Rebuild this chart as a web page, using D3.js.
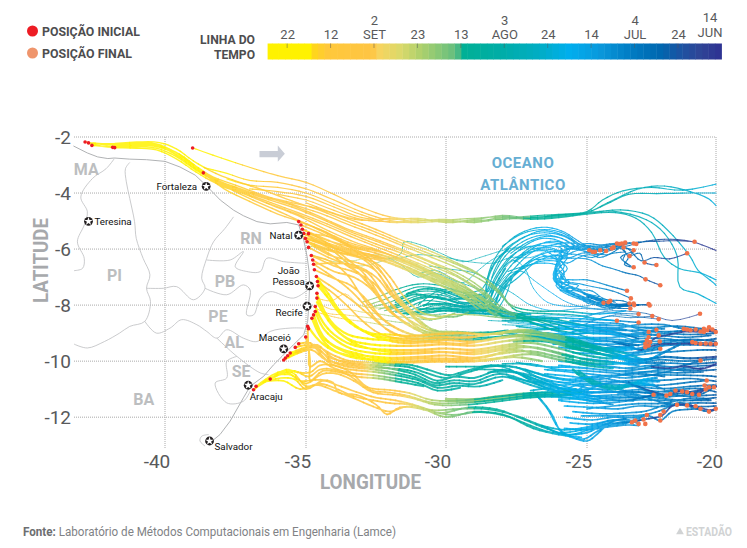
<!DOCTYPE html>
<html>
<head>
<meta charset="utf-8">
<script src="https://cdn.jsdelivr.net/npm/d3@7"></script>
<style>
html,body{margin:0;padding:0;background:#fff;}
text{font-family:"Roboto",sans-serif;}
</style>
</head>
<body>
<div id="chart"></div>
<script>
// axes
var lonTicks = [-40,-35,-30,-25,-20];
var latTicks = [-2,-4,-6,-8,-10,-12];

// timeline: days counted from 14 jun
var timelineDays = [104.5,95,94,91,80.5,79,74,69.5,65,61,60,51,42,35,28,21,14,9.5,5,0];
var timelineColors = ["#fff200","#fff200","#ffd61a","#ffc83a","#fec544","#f7d45e","#dbd96b","#afd06c","#86c877","#60bc7f","#00b094","#00ada6","#00adc4","#00aeef","#0a98db","#007cc3","#0066af","#1b53a2","#2f4596","#2e3192"];
var timelineTicks = [100,90,80,70,60,50,40,30,20,10,0];
var timelineNumbers = ["22","12","2","23","13","3","24","14","4","24","14"];
var timelineMonths = ["","","SET","","","AGO","","","JUL","","JUN"];

// map: [lon,lat,lon,lat...]
var coastLine = [-43.22,-2.32,-42.73,-2.57,-42.37,-2.71,-42.01,-2.77,-41.78,-2.75,-41.24,-2.79,-40.65,-2.81,-40,-2.87,-39.47,-3.07,-38.93,-3.36,-38.55,-3.72,-38.04,-4.25,-37.57,-4.61,-37.22,-4.81,-36.74,-5.02,-36.27,-5.1,-35.68,-5.05,-35.26,-5.14,-35.08,-5.68,-34.96,-6.27,-34.89,-6.8,-34.87,-7.28,-34.9,-7.99,-34.94,-8.58,-35.08,-9.06,-35.44,-9.41,-35.85,-9.83,-36.15,-10.13,-36.5,-10.54,-36.98,-10.9,-37.22,-11.31,-37.69,-12.14,-38.05,-12.62,-38.4,-12.91];
var stateBorders = [
  [-41.78,-2.77,-42.07,-3.13,-42.55,-3.48,-42.96,-4.14,-42.73,-4.67,-42.84,-5.14,-43.08,-5.74,-42.84,-6.33,-42.9,-6.69,-43.2,-6.77],
  [-41.24,-2.91,-41.39,-3.13,-41.36,-3.6,-41.24,-4.19,-41.07,-5.02,-41.01,-5.62,-40.77,-6.33,-40.53,-6.92,-40.65,-7.4,-40.51,-7.87,-40.71,-8.58,-41.24,-8.76,-41.6,-9,-42.13,-9.3,-42.73,-9.53,-43.2,-9.39],
  [-37.57,-4.85,-37.87,-5.26,-38.28,-5.74,-38.52,-6.33,-38.7,-7.04,-38.58,-7.4,-38.99,-7.81,-39.59,-7.34,-40.06,-7.4,-40.65,-7.4],
  [-34.96,-6.51,-35.79,-6.45,-36.39,-6.33,-36.62,-6.8,-37.1,-6.8,-37.51,-6.63,-37.22,-6.09,-37.69,-6.39,-38.52,-6.39],
  [-34.87,-7.4,-35.44,-7.75,-36.27,-7.52,-36.62,-7.75,-36.86,-8.35,-37.1,-8.35,-36.98,-7.46,-37.22,-7.28,-37.81,-7.63,-38.58,-7.4],
  [-35.08,-8.82,-35.56,-8.82,-36.27,-8.94,-36.74,-9.3,-37.22,-9.18,-37.81,-8.88,-38.16,-9.18,-38.52,-8.94,-38.87,-8.7,-39.41,-8.52,-39.82,-8.82,-40.3,-9,-40.71,-8.58],
  [-38.16,-9.18,-37.45,-9.83,-36.62,-10.42,-36.33,-10.48],
  [-37.45,-9.83,-37.81,-10.01,-37.81,-10.6,-38.22,-10.78,-37.81,-11.49,-37.22,-11.43,-36.98,-11.07],
  [-38.45,-12.62,-38.7,-12.68,-38.76,-12.85,-38.58,-13.03]
];
var cityNames = ["Fortaleza","Teresina","Natal","João Pessoa","Recife","Maceió","Aracaju","Salvador"];
var cityLons = [-38.54,-42.69,-35.26,-34.87,-34.96,-35.79,-37.05,-38.42];
var cityLats = [-3.76,-5.01,-5.5,-7.31,-8.04,-9.56,-10.86,-12.85];
var stateNames = ["MA","PI","RN","PB","PE","AL","SE","BA"];
var stateLons = [-42.77,-41.78,-36.95,-37.87,-38.12,-37.55,-37.3,-40.75];
var stateLats = [-3.15,-6.93,-5.61,-7.14,-8.42,-9.35,-10.38,-11.38];

var startPositions = [-42.81,-2.18,-42.69,-2.21,-42.57,-2.3,-41.84,-2.37,-41.77,-2.38,-39.02,-2.39,-38.64,-3.28,-35.26,-5.02,-35.18,-5.14,-35.13,-5.29,-35.08,-5.44,-35.02,-5.62,-34.96,-5.74,-34.91,-5.94,-34.81,-6.23,-34.76,-6.39,-34.73,-6.54,-34.7,-6.74,-34.63,-6.98,-34.59,-7.16,-34.57,-7.31,-34.61,-7.58,-34.61,-7.75,-34.67,-8.05,-34.67,-8.23,-34.73,-8.35,-34.79,-8.47,-34.94,-8.76,-34.91,-8.84,-35.01,-9.14,-34.91,-5.45,-35.26,-9.38,-35.38,-9.51,-35.56,-9.71,-35.65,-9.81,-35.73,-9.89,-35.79,-9.96,-36.27,-10.64,-36.77,-10.9,-36.86,-11.02];
var endPositions = [-23.84,-5.8,-23.74,-5.82,-23.65,-5.8,-23.52,-5.77,-23.97,-5.94,-24.04,-5.98,-23.58,-5.94,-23.19,-5.8,-23.09,-5.82,-24.26,-6.07,-24.49,-6.04,-24.69,-6.1,-24.91,-6.04,-24.78,-6.1,-23.19,-6.04,-23.35,-6.25,-22.77,-6.48,-22.31,-6.57,-23.19,-6.65,-22.73,-7.08,-22.16,-7.29,-20.83,-5.74,-21.12,-6.15,-23.45,-7.49,-23.3,-7.76,-23.35,-7.94,-23.19,-7.94,-23.17,-8,-22.61,-7.96,-22.57,-8.01,-24.1,-7.85,-24.17,-7.9,-24.36,-7.92,-23.32,-8.12,-20.62,-8.31,-23,-8.32,-22.47,-8.39,-22.22,-8.5,-23.84,-8.56,-23,-8.62,-21.25,-8.85,-21.12,-8.87,-20.99,-8.9,-20.79,-8.87,-20.6,-8.94,-20.47,-8.96,-20.34,-8.9,-20.14,-8.87,-20.01,-8.96,-20.47,-8.85,-20.27,-8.79,-20.92,-9.32,-20.79,-9.35,-20.6,-9.38,-20.4,-9.37,-20.21,-9.38,-20.01,-9.38,-22.61,-8.96,-22.31,-8.88,-22.61,-9.14,-22.68,-9.26,-22.74,-9.38,-22.61,-9.44,-22.55,-9.32,-22.74,-9.5,-22.16,-9.56,-22.18,-9.3,-22.22,-9.08,-20.6,-9.98,-20.36,-10.69,-20.44,-10.87,-20.27,-10.93,-20.08,-10.93,-20.4,-11.01,-20.66,-11.2,-20.92,-11.17,-21.12,-11.11,-21.31,-11.08,-21.57,-11.05,-21.77,-11.17,-21.92,-11.23,-22.42,-11.2,-21.51,-11.56,-21.12,-11.58,-20.79,-11.61,-20.6,-11.7,-20.27,-11.8,-20.01,-11.7,-22.16,-11.92,-22.03,-11.8,-22.68,-11.92,-22.81,-12.08,-23,-12.24,-23.26,-12.18,-23.13,-12.12,-22.74,-12.24,-22.16,-12.12];

// tracks: [lon,lat,...], and for each group the day reached at a given longitude [lon,day]
var northBandDays = [[-43,103],[-39.5,100],[-38.5,94],[-36,90],[-33,86],[-31.5,78],[-30,73],[-28.8,68],[-27.8,62],[-26,50],[-25,40],[-23,28],[-20,12]];
var northBand = [
 [-42.8,-2.18,-42,-2.28,-41,-2.22,-40.3,-2.25,-39.7,-2.5,-39,-2.98,-38.3,-3.42,-37.5,-3.72,-36.5,-4.08,-35.5,-4.4,-34.5,-4.72,-33.5,-5.12,-32.5,-5.5,-31.5,-5.9,-30.5,-6.3,-29.5,-6.72,-28.6,-7.2,-28,-7.7,-27.5,-8.2,-26.5,-8.3,-25.5,-8.35,-24.5,-8.5,-23.84,-8.56],
 [-42.7,-2.2,-42,-2.24,-41,-2.18,-40.2,-2.2,-39.6,-2.42,-39,-2.85,-38.2,-3.3,-37.4,-3.6,-36.5,-3.9,-35.5,-4.28,-34.5,-4.62,-33.5,-5.02,-32.5,-5.4,-31.5,-5.82,-30.5,-6.2,-29.5,-6.6,-28.7,-7,-28.1,-7.5,-27.7,-8,-26.9,-8.2,-25.8,-8.22,-24.5,-8.32,-23.5,-8.2],
 [-42.57,-2.3,-41.8,-2.34,-41,-2.3,-40.3,-2.34,-39.6,-2.62,-39,-3.08,-38.3,-3.5,-37.6,-3.8,-36.6,-4.15,-35.5,-4.5,-34.5,-4.9,-33.5,-5.35,-32.5,-5.72,-31.5,-6.1,-30.5,-6.5,-29.6,-6.95,-28.8,-7.45,-28.2,-7.95,-27.3,-8.45,-26.2,-8.5,-25,-8.75,-24,-8.95,-23,-9.1],
 [-41.84,-2.37,-41,-2.35,-40.3,-2.4,-39.6,-2.7,-38.9,-3.18,-38.2,-3.58,-37.5,-3.88,-36.5,-4.25,-35.5,-4.62,-34.5,-5,-33.5,-5.42,-32.5,-5.82,-31.5,-6.18,-30.5,-6.6,-29.5,-7.05,-28.7,-7.6,-28.2,-8.05,-27.2,-8.4,-26,-8.7,-25,-9,-24,-9.05,-22.74,-9.38],
 [-41.77,-2.38,-41,-2.4,-40.3,-2.46,-39.6,-2.78,-38.9,-3.25,-38.2,-3.65,-37.4,-3.95,-36.4,-4.35,-35.4,-4.72,-34.4,-5.12,-33.4,-5.55,-32.4,-5.95,-31.5,-6.3,-30.5,-6.72,-29.5,-7.2,-28.8,-7.72,-28.3,-8.15,-27.5,-8.4,-26.5,-8.8,-25.5,-9,-24.5,-9.3],
 [-42.7,-2.22,-42,-2.36,-41,-2.32,-40.3,-2.3,-39.6,-2.55,-39,-3.02,-38.3,-3.47,-37.6,-3.76,-36.6,-4.1,-35.6,-4.4,-34.6,-4.8,-33.6,-5.25,-32.6,-5.62,-31.6,-6,-30.6,-6.42,-29.6,-6.85,-28.8,-7.35,-28.3,-7.85],
 [-38.64,-3.28,-38,-3.74,-37.2,-4.02,-36.3,-4.4,-35.3,-4.8,-34.4,-5.25,-33.4,-5.7,-32.4,-6.05,-31.5,-6.42,-30.5,-6.85,-29.6,-7.3,-28.9,-7.8,-28.4,-8.25],
 [-41.8,-2.3,-41,-2.27,-40.3,-2.3,-39.7,-2.58,-39.1,-3,-38.4,-3.45,-37.7,-3.72,-36.7,-4.05,-35.7,-4.3,-34.6,-4.55,-33.5,-4.92,-32.5,-5.3,-31.5,-5.72,-30.5,-6.1,-29.6,-6.5,-28.9,-6.85,-28.3,-7.35,-27.8,-7.95],
 [-38.64,-3.28,-37.9,-3.85,-37,-4.3,-36,-4.75,-35,-5.1,-34,-5.6,-33.2,-6.1,-32.6,-6.55,-32.1,-7.1,-31.7,-7.7,-31.2,-8.2,-30.6,-8.5,-29.9,-8.35,-29,-8.35,-28,-8.45,-27,-8.5,-26,-8.85],
 [-40.3,-2.28,-39.5,-2.6,-38.8,-3.12,-38,-3.68,-37.1,-4.15,-36.2,-4.55,-35.2,-5,-34.2,-5.45,-33.4,-5.9,-32.7,-6.35,-32.2,-6.95,-31.75,-7.7,-31.3,-8.29,-30.5,-8.95,-29.9,-8.95,-29,-9,-28,-9.05]
];

var topStrandDays = [[-39,98],[-37,93],[-35,88],[-33,85],[-32,80],[-31,75],[-30,71],[-28.5,66],[-27,60],[-25,52],[-23,46],[-20,38]];
var topStrand = [
 [-39.02,-2.39,-38,-2.75,-37,-3.08,-36,-3.38,-35,-3.62,-34,-4.05,-33,-4.52,-32,-4.85,-31,-4.95,-30,-5.02,-29,-4.95,-28,-4.8,-27,-4.88,-26,-4.8,-25,-4.66,-24.4,-4.25,-23.6,-3.92,-22.5,-3.8,-21.3,-3.9,-20,-3.68],
 [-38.6,-3.1,-37.8,-3.3,-37,-3.55,-36,-3.62,-35,-3.85,-34,-4.25,-33,-4.68,-32,-4.98,-31,-5.06,-30,-4.98,-29,-5.04,-28,-4.92,-27,-4.82,-26,-4.76,-25,-4.68,-24.3,-4.42,-23.4,-4.05,-22.3,-4.02,-21,-4,-20,-4],
 [-37.8,-3.5,-37,-3.72,-36,-3.8,-35,-4,-34,-4.4,-33,-4.78,-32,-5.05,-31,-5,-30,-4.94,-29,-5.06,-28,-4.86,-27,-4.92,-26,-4.84,-25,-4.7,-24.2,-4.35,-23,-3.85,-22,-3.75,-21,-3.95,-20.3,-4.2,-20,-4.45],
 [-37,-3.85,-36,-3.95,-35,-4.12,-34,-4.5,-33,-4.88,-32,-4.95,-31,-4.9,-30,-5.06,-29,-4.98,-28,-4.94,-27,-4.86,-26,-4.82,-25,-4.7,-24,-4.65,-22.7,-4.95,-22,-5.44,-21.5,-6.27,-21.4,-7.35,-20.7,-7.6,-20,-7.94],
 [-36,-4.05,-35,-4.25,-34,-4.62,-33,-4.95,-32,-5.02,-31,-4.98,-30,-4.96,-29,-4.9,-28,-4.84,-27,-4.9,-26,-4.78,-25,-4.72,-23.7,-4.6,-22.6,-4.8,-21.9,-5.3,-21,-6.27,-20.7,-6.75,-20.1,-7.2,-20,-7.3],
 [-35,-4.35,-34,-4.72,-33,-4.98,-32,-4.9,-31,-5.04,-30,-5,-29,-5.02,-28,-4.88,-27,-4.94,-26,-4.88,-25,-4.75,-23.9,-4.7,-23.1,-4.9,-22.5,-5.4,-22,-6.3,-21.4,-6.7,-20.6,-6.85,-20,-7.1]
];

var natalBandDays = [[-35.3,92],[-34,89],[-33,86],[-32.3,80],[-31,74],[-29.5,70],[-28.5,66],[-27.5,52],[-26,40],[-25,33],[-23,22],[-20,8]];
var natalBand = [
 [-35.26,-5.02,-34.5,-5.3,-33.5,-5.75,-32.5,-6.05,-31.5,-6.4,-30.5,-6.85,-29.5,-7.3,-28.5,-7.9,-27.9,-8.3,-27,-8.4,-26,-8.45,-25,-8.5,-24,-8.55,-23,-8.62],
 [-35.18,-5.14,-34.5,-5.42,-33.5,-5.85,-32.5,-6.15,-31.5,-6.5,-30.5,-6.95,-29.5,-7.42,-28.6,-8,-27.7,-8.5,-26.5,-8.55,-25.5,-8.7,-24.5,-8.8,-23.5,-8.9],
 [-35.13,-5.29,-34.4,-5.6,-33.5,-5.98,-32.5,-6.25,-31.5,-6.6,-30.5,-7.05,-29.6,-7.5,-28.8,-8.05,-28.2,-8.4],
 [-35.08,-5.44,-34.4,-5.72,-33.4,-6.05,-32.4,-6.35,-31.4,-6.72,-30.4,-7.18,-29.5,-7.62,-28.7,-8.12],
 [-35.02,-5.62,-34.3,-5.85,-33.4,-6.15,-32.4,-6.3,-31.6,-6.55,-30.6,-6.98,-29.6,-7.4,-28.9,-7.85],
 [-34.91,-5.45,-34.2,-5.7,-33.3,-5.95,-32.3,-6.2,-31.3,-6.52,-30.3,-7,-29.3,-7.48,-28.6,-7.9,-28.1,-8.3],
 [-34.91,-5.45,-34.2,-5.55,-33.3,-5.88,-32.3,-6.12,-31.3,-6.44,-30.3,-6.9,-29.3,-7.38,-28.6,-7.8,-28,-8.2],
 [-35,-5.7,-34.2,-6,-33.3,-6.22,-32.3,-6.42,-31.3,-6.8,-30.3,-7.25,-29.4,-7.72,-28.8,-8.2],
 [-35.1,-5.55,-34.3,-5.8,-33.4,-6.1,-32.4,-6.25,-31.4,-6.65,-30.4,-7.12,-29.4,-7.55,-28.5,-8.2,-28,-8.4]
];
var natalThin = [
 [-34.9,-5.9,-34.1,-6.05,-33.5,-6.5,-33,-6.6,-32.2,-6.4,-31.6,-6.15,-31.5,-5.75,-30.9,-5.85,-30.3,-6.1,-29.4,-6.45,-28.8,-6.3,-28,-6.05,-27.3,-5.9],
 [-34.8,-6.2,-34,-6.45,-33.2,-6.4,-32.4,-6.2,-31.7,-6.5,-31,-7,-30.4,-6.85,-29.4,-7.2,-28.9,-6.8,-28.4,-6.4,-27.6,-6,-27,-5.9],
 [-32.6,-6.3,-31.8,-6.35,-31,-6.2,-30,-6.3,-29.2,-6.45,-28.3,-6.5,-27.7,-6.3,-27,-6.3,-26.4,-6.05]
];

var orangeFanDays = [[-35,92],[-34,90],[-33,87],[-32,83],[-31,74],[-30,66],[-29,60],[-28,52],[-27,46],[-26,38],[-25,32],[-24,26],[-23,18],[-22,10],[-20,3]];
var orangeFan = [
 [-34.96,-5.74,-34.2,-6.2,-33.3,-6.45,-32.6,-6.7,-32.1,-7.3,-31.6,-8,-31,-8.5,-30.4,-8.92,-29.8,-8.95,-29,-8.98,-28,-8.95,-27,-8.9,-26,-8.85,-25,-8.9,-24,-8.95,-23,-9.2],
 [-34.81,-6.23,-34,-6.6,-33.2,-6.85,-32.6,-7.2,-32.1,-7.8,-31.6,-8.3,-31,-8.8,-30.4,-9.05,-29.7,-9,-29,-9,-28,-9,-27,-9.1,-26,-9.15,-25,-9.2,-24,-9.3,-23,-9.45],
 [-34.76,-6.39,-34,-6.8,-33.3,-7,-32.7,-7.4,-32.2,-8,-31.6,-8.52,-31,-8.9,-30.3,-9.2,-29.5,-9.2,-28.5,-9.15,-27.5,-9.1,-26.5,-9.2,-25.5,-9.3,-24.5,-9.4,-23.5,-9.55],
 [-34.73,-6.54,-34,-6.5,-33.2,-6.6,-32.5,-7,-32,-7.6,-31.5,-8.1,-30.9,-8.65,-30.2,-8.95,-29.6,-8.95,-28.8,-9,-27.8,-8.9],
 [-34.96,-5.74,-34.2,-6.05,-33.3,-6.25,-32.5,-6.5,-32,-7,-31.5,-7.7,-30.9,-8.25,-30.2,-8.4,-29.6,-8.4,-29,-8.2,-28.2,-8.2,-27.2,-8.35],
 [-35.02,-5.62,-34.2,-5.95,-33.3,-6.7,-32.9,-7.1,-32.4,-7.7,-31.9,-8.3,-31.3,-8.75,-30.6,-9.05,-29.8,-9.1,-28.9,-9.1],
 [-34.7,-6.74,-34,-7.05,-33.4,-7.3,-32.8,-7.85,-32.3,-8.45,-31.7,-8.85,-31,-9.1,-30.2,-9.15,-29.3,-9.25,-28.4,-9.2],
 [-34.63,-6.98,-34,-7.4,-33.4,-7.8,-32.8,-8.3,-32.2,-8.8,-31.6,-9.1,-30.8,-9.25,-30,-9.1,-29,-9,-28,-8.95,-27,-8.95,-26,-9.05],
 [-34.91,-5.94,-34.2,-6.3,-33.4,-6.6,-32.8,-6.85,-32.3,-7.5,-31.8,-8.15,-31.2,-8.6,-30.5,-8.92,-29.8,-8.95,-29,-9],
 [-35.08,-5.44,-34.3,-5.85,-33.5,-6.15,-32.9,-6.4,-32.4,-6.9,-32,-7.5,-31.5,-8,-31,-8.4,-30.4,-8.5,-29.7,-8.3],
 [-35.13,-5.29,-34.3,-5.75,-33.6,-6.3,-33,-6.8,-32.6,-7.3,-32.2,-7.95,-31.7,-8.45,-31.1,-8.8,-30.4,-9,-29.6,-8.98],
 [-34.59,-7.16,-34,-7.6,-33.5,-8.05,-33,-8.55,-32.4,-9,-31.7,-9.2,-30.9,-9.3,-30,-9.2],
 [-34.73,-6.54,-34.1,-6.95,-33.5,-7.4,-33,-7.9,-32.5,-8.5,-32,-8.95,-31.3,-9.15,-30.5,-9.2],
 [-34.81,-6.23,-34.1,-6.45,-33.5,-6.95,-33.1,-7.55,-32.6,-8.2,-32,-8.7,-31.4,-9,-30.7,-9.12],
 [-34.96,-5.74,-34.2,-6.15,-33.6,-6.55,-33,-6.95,-32.5,-7.55,-32.1,-8.15,-31.5,-8.6]
];
var paleStubsDays = [[-34.5,90],[-33.7,82],[-33,74],[-32,68],[-31,63],[-30,60],[-29,54],[-28,46]];
var paleStubs = [
 [-34.61,-7.75,-34.1,-7.85,-33.6,-7.6,-33.1,-8,-32.5,-8.1,-31.9,-8.1,-31.2,-8.3,-30.6,-8.35,-30,-8.3],
 [-34.61,-7.9,-34.1,-8.15,-33.5,-8.15,-33,-8.25,-32.5,-8.3,-31.9,-8.4,-31.3,-8.45,-30.5,-8.55],
 [-34.67,-8.1,-34.2,-8.3,-33.6,-8.35,-33,-8.42,-32.4,-8.5,-31.8,-8.6,-31.3,-8.65],
 [-34.67,-8.23,-34.1,-8.4,-33.6,-8.5,-33,-8.58,-32.4,-8.68,-31.9,-8.75]
];

var tealArcsDays = [[-33,70],[-32,62],[-31.4,58],[-30,51],[-29,47],[-28,43],[-27,38],[-26,33],[-25,28],[-24,22],[-23,14],[-22,8],[-20,2]];
var tealArcs = [
 [-33,-7.9,-32.4,-7.7,-31.8,-7.45,-31,-7.25,-30.2,-7.3,-29.4,-7.55,-28.7,-7.4,-28.4,-6.6,-28,-5.95,-27.4,-5.45,-26.6,-5.22,-25.9,-5.35,-25.4,-5.65,-25,-5.9,-24.5,-6.05,-24,-5.96,-23.6,-5.78,-23.19,-5.8],
 [-32.8,-8,-32.2,-7.8,-31.6,-7.55,-31,-7.35,-30.2,-7.42,-29.4,-7.65,-28.6,-7.55,-28.3,-6.8,-27.9,-6.1,-27.3,-5.62,-26.6,-5.35,-25.9,-5.48,-25.4,-5.75,-24.9,-6.02,-24.4,-6.08,-23.97,-5.94],
 [-32.6,-8.05,-32,-7.9,-31.4,-7.62,-30.8,-7.5,-30.2,-7.55,-29.5,-7.78,-28.7,-7.7,-28.35,-7,-27.9,-6.25,-27.3,-5.75,-26.6,-5.5,-26,-5.58,-25.5,-5.85,-25.2,-6.05,-24.69,-6.1],
 [-32.4,-8.15,-31.8,-7.98,-31.2,-7.72,-30.6,-7.6,-30,-7.68,-29.4,-7.9,-28.6,-7.8,-28.3,-7.2,-27.8,-6.42,-27.2,-5.88,-26.6,-5.62,-26,-5.7,-25.6,-5.98,-25.9,-6.35,-26.1,-6.8,-26.05,-7.25,-25.5,-7.55,-24.8,-7.85,-24.36,-7.92],
 [-32.2,-8.2,-31.6,-8.05,-31,-7.8,-30.4,-7.72,-29.8,-7.85,-29.2,-8,-28.6,-7.92,-28.2,-7.3,-27.7,-6.6,-27.1,-6,-26.5,-5.78,-25.9,-5.85,-25.7,-6.1,-26.05,-6.55,-26.1,-7,-25.9,-7.35,-25.3,-7.62,-24.6,-7.9,-24.1,-7.85],
 [-32,-8.25,-31.4,-8.1,-30.8,-7.85,-30.2,-7.88,-29.6,-8,-29,-8.05,-28.5,-8,-28.1,-7.35,-27.6,-6.72,-27,-6.15,-26.4,-5.9,-25.9,-5.98,-26,-6.3,-26.15,-6.75,-26.1,-7.15,-25.6,-7.5,-25,-7.75,-24.4,-7.98,-23.9,-8,-23.35,-7.94],
 [-31.8,-8.25,-31.2,-8.15,-30.6,-7.95,-30,-8,-29.4,-8.1,-28.9,-8.12,-28.4,-8.05,-28,-7.4,-27.5,-6.85,-26.9,-6.32,-26.3,-6.1,-25.8,-6.12,-26,-6.5,-26.2,-6.9,-26,-7.3,-25.5,-7.62,-24.9,-7.85,-24.2,-8.05,-23.6,-8.05,-23.19,-7.94],
 [-31.6,-8.3,-31,-8.2,-30.4,-8.02,-29.8,-8.1,-29.2,-8.15,-28.7,-8.15,-28.2,-7.95,-27.9,-7.4,-27.4,-6.98,-26.8,-6.45,-26.2,-6.25,-25.7,-6.28,-26,-6.7,-26.2,-7.05,-25.85,-7.4,-25.3,-7.7,-24.7,-7.92,-24,-8.1,-23.32,-8.12],
 [-31.4,-8.35,-30.8,-8.22,-30.2,-8.1,-29.6,-8.15,-29,-8.2,-28.5,-8.2,-28.1,-7.8,-27.8,-7.2,-27.3,-6.7,-26.7,-6.3,-26.1,-6.22,-25.7,-6.02,-25.1,-5.92,-24.6,-6.02,-24.1,-5.85,-23.84,-5.8],
 [-31.2,-8.35,-30.6,-8.28,-30,-8.18,-29.4,-8.22,-28.8,-8.28,-28.3,-8.25,-27.9,-7.7,-27.6,-6.95,-27,-6.42,-26.4,-6.35,-25.9,-6.32,-25.5,-6.1,-25,-6,-24.49,-6.04],
 [-30.8,-8.05,-30.2,-7.62,-29.6,-7.5,-29,-7.72,-28.5,-7.65,-28.2,-7,-27.8,-6.5,-27.2,-6.15,-26.6,-6.05,-26,-6.1,-25.6,-5.95,-25.1,-5.88,-24.6,-5.9,-24.04,-5.98],
 [-31,-8,-30.4,-7.55,-29.8,-7.42,-29.2,-7.62,-28.6,-7.6,-28.2,-6.9,-27.7,-6.25,-27,-5.9,-26.4,-5.88,-25.8,-5.78,-25.3,-5.82,-24.8,-5.92,-24.26,-6.07],
 [-30.4,-8.2,-29.8,-8.05,-29.2,-8.08,-28.6,-8.05,-28.1,-7.6,-27.7,-7.05,-27.1,-6.6,-26.5,-6.42,-25.95,-6.5,-26.1,-6.95,-25.95,-7.35,-25.4,-7.68,-24.8,-7.98,-24.17,-7.9],
 [-25.7,-6.02,-26.05,-6.6,-26.15,-7.1,-25.8,-7.45,-25.3,-7.5,-24.7,-7.72,-24.1,-7.82,-23.6,-7.85,-23.17,-8,-22.61,-7.96],
 [-25.9,-6.1,-26.1,-6.7,-26,-7.25,-25.5,-7.42,-24.9,-7.65,-24.2,-7.95,-23.7,-8.02,-23,-7.98,-22.57,-8.01],
 [-25.9,-5.85,-25.3,-5.98,-24.7,-6,-24.1,-6,-23.6,-5.85,-23,-5.75,-22.2,-5.72,-21.5,-5.7,-20.83,-5.74],
 [-25.8,-5.95,-25.2,-6,-24.6,-5.95,-24,-5.9,-23.5,-5.9,-22.9,-5.75,-22,-5.65,-21,-5.72,-20.4,-5.9,-20,-6.05],
 [-25.9,-6.05,-25.3,-5.95,-24.6,-5.9,-23.9,-5.85,-23.4,-6,-22.9,-6.42,-22.4,-6.3,-21.8,-6.35,-21.12,-6.15],
 [-25.9,-6.35,-25,-6.35,-24.4,-6.6,-24,-6.7,-23.5,-6.85,-23,-6.95,-22.73,-7.08,-22.16,-7.29],
 [-26.05,-7.05,-25.5,-7.1,-25,-7.1,-24,-7.35,-23.45,-7.49],
 [-26,-7.2,-25.5,-7.2,-25,-7.3,-24,-7.5,-23.3,-7.76],
 [-23.9,-5.9,-23.5,-6.1,-23.6,-6.4,-23.3,-6.6,-23.7,-6.3,-23.2,-6.1,-23.35,-6.25,-22.95,-6.15,-22.77,-6.48,-22.31,-6.57],
 [-23.7,-5.95,-23.4,-6.3,-23.55,-6.55,-23.19,-6.65],
 [-27.6,-6.5,-27,-6.1,-26.4,-6,-25.9,-6.2,-26.1,-6.6,-25.95,-7.1,-25.6,-7.35,-25.2,-7.55,-24.7,-7.75,-24.3,-7.85],
 [-26.6,-6.2,-26,-6.4,-25.7,-6.7,-25.95,-7,-25.6,-7.2,-25.9,-7.4,-25.4,-7.4,-25,-7.6,-24.5,-7.7],
 [-26.4,-6.1,-25.8,-6.6,-26.1,-7,-25.7,-7.3,-25.2,-7.45,-24.8,-7.5,-24.4,-7.75,-23.9,-7.9],
 [-26.3,-6.25,-25.7,-6.5,-25.3,-6.3,-24.9,-6.2,-24.5,-6.3,-24,-6.15,-23.5,-6.1],
 [-26.2,-6.2,-25.6,-6.3,-25.2,-6.15,-24.7,-6.15,-24.2,-6.2,-23.8,-6],
 [-26,-6.05,-25.5,-6,-25,-6.1,-24.6,-6.2,-24.1,-6.05,-23.6,-5.95,-23.2,-6.05],
 [-26,-5.9,-25.5,-5.9,-25,-5.8,-24.5,-5.85,-24,-5.8,-23.65,-5.8],
 [-26.1,-6.4,-25.8,-6.9,-26.1,-7.3,-25.6,-7.6,-25,-7.85,-24.5,-8.02,-24,-7.98,-23.4,-8.05],
 [-26.05,-6.7,-25.75,-7.1,-26,-7.4,-25.5,-7.7,-24.9,-7.9,-24.3,-8.1,-23.7,-8.1],
 [-26,-6.8,-25.7,-7.2,-25.3,-7.3,-25.6,-7.55,-25.1,-7.75,-24.6,-7.95,-24.1,-8.05],
 [-27.8,-6.8,-27,-6.55,-26.5,-6.5,-26,-6.6,-25.8,-6.85,-26,-7.15,-25.5,-7.35],
 [-27.5,-6.3,-26.9,-6,-26.3,-5.95,-25.8,-6.15,-25.3,-6.2,-24.8,-6.3,-24.3,-6.1],
 [-28,-5.9,-27.3,-5.45,-26.5,-5.3,-25.8,-5.45,-25.3,-5.8,-24.9,-5.92],
 [-27.9,-6,-27.2,-5.55,-26.5,-5.42,-25.8,-5.55,-25.3,-5.88],
 [-27.7,-6.15,-27.1,-5.75,-26.5,-5.55,-25.9,-5.62,-25.4,-5.9],
 [-27.5,-6.4,-26.9,-5.95,-26.3,-5.72,-25.8,-5.8,-25.5,-6]
];
var tealBand = [
 [-31.5,-8.3,-30.8,-8.25,-30,-8.2,-29.2,-8.28,-28.4,-8.32,-27.6,-8.42,-26.8,-8.45,-26,-8.5],
 [-31,-8.15,-30.2,-8.12,-29.4,-8.18,-28.6,-8.22,-27.9,-8.3,-27,-8.32],
 [-30.8,-8,-30,-7.95,-29.4,-8.05,-28.8,-8,-28.2,-8.1],
 [-31.4,-7.6,-30.8,-7.42,-30.2,-7.48,-29.6,-7.68,-29,-7.85,-28.6,-7.75],
 [-31.8,-7.9,-31.2,-7.62,-30.6,-7.68,-30,-7.8,-29.4,-7.75,-28.8,-7.62],
 [-32,-8.1,-31.4,-7.9,-30.9,-7.72,-30.2,-7.72,-29.6,-7.92,-29,-7.92,-28.5,-7.88],
 [-28.7,-8.3,-28.6,-7.6,-28.5,-7,-28.2,-6.4,-27.8,-6],
 [-28.5,-8.3,-28.4,-7.7,-28.2,-7.2,-27.9,-6.7],
 [-28.3,-8.3,-28.2,-7.8,-28,-7.3,-27.5,-6.8]
];
var tealThin = [
 [-31,-6.9,-30.4,-6.75,-29.7,-7.1,-29.2,-7.3,-28.4,-7.5,-27.8,-6.9,-27.3,-6.8,-26.9,-7.1,-26.2,-7.6,-25.7,-7.9,-25,-8.1,-24,-8.15],
 [-30.6,-6.6,-30,-6.7,-29,-6.85,-28.3,-7.2,-27.6,-7.6,-27,-8,-26.2,-8.2,-25.2,-8.12,-24.2,-8.18],
 [-28,-6.8,-27.6,-6.4,-27.2,-6.7,-26.9,-7.4,-26.4,-7.9,-25.6,-8.05,-24.9,-8.02],
 [-29.6,-8.35,-28.8,-8.3,-28,-8.4,-27.2,-8.45,-26.3,-8.35,-25.3,-8.4,-24,-8.2,-22.7,-8.3,-21.7,-8.55,-20.62,-8.31],
 [-28.5,-8.55,-27.5,-8.6,-26.5,-8.7,-25.5,-8.6,-24.6,-8.3,-23.7,-8.3,-23,-8.32],
 [-28,-8.7,-27,-8.75,-26,-8.9,-25,-8.65,-24.2,-8.4,-23.3,-8.45,-22.47,-8.39],
 [-27.8,-8.62,-26.8,-8.7,-25.8,-8.62,-24.8,-8.55,-23.9,-8.35,-23,-8.42,-22.22,-8.5]
];

var recifeYellowDays = [[-35,103],[-33.5,102],[-32.5,97],[-31.5,92],[-30,87],[-29,80],[-28,74],[-27,67],[-26,62],[-25,54],[-24,40],[-23,28],[-22,18],[-20,7]];
var recifeYellow = [
 [-34.61,-7.58,-34.35,-8.2,-34,-8.7,-33.5,-9.05,-32.8,-9.2,-32,-9.25,-31,-9.3,-30,-9.25,-29,-9.3,-28,-9.15,-27,-9.05,-26,-9.2,-25,-9.45,-24,-9.7,-23,-9.95,-22,-9.85,-21,-9.9,-20,-9.85],
 [-34.61,-7.75,-34.3,-8.4,-33.9,-8.9,-33.4,-9.25,-32.7,-9.4,-32,-9.45,-31,-9.45,-30,-9.4,-29,-9.45,-28,-9.3,-27,-9.2,-26,-9.35,-25,-9.6,-24,-9.85,-23,-10.05,-22,-10.05],
 [-34.67,-8.05,-34.4,-8.6,-34,-9.05,-33.4,-9.4,-32.7,-9.55,-32,-9.6,-31,-9.6,-30,-9.55,-29,-9.6,-28,-9.45,-27,-9.35,-26,-9.55,-25,-9.8,-24,-9.9,-23,-9.7,-22.16,-9.56],
 [-34.67,-8.23,-34.4,-8.8,-34,-9.2,-33.4,-9.55,-32.7,-9.7,-32,-9.75,-31,-9.72,-30,-9.68,-29,-9.75,-28,-9.6,-27,-9.5,-26,-9.7,-25,-9.95,-24,-10.05,-23,-10.15],
 [-34.73,-8.35,-34.5,-9,-34.1,-9.4,-33.5,-9.7,-32.8,-9.82,-32,-9.88,-31,-9.85,-30,-9.8,-29,-9.88,-28,-9.72,-27,-9.65,-26,-9.85,-25,-10.05,-24,-10.1,-23,-9.98],
 [-34.79,-8.47,-34.5,-9.1,-34.1,-9.55,-33.4,-9.85,-32.6,-9.95,-32,-10,-31,-10,-30,-9.95,-29,-9.98,-28.2,-9.9,-27,-9.75,-26,-9.95,-25,-10.15,-24,-10.25],
 [-34.63,-6.98,-34.2,-7.6,-33.8,-8.2,-33.3,-8.7,-32.7,-9,-32,-9.05,-31.3,-9.1,-30.5,-9.05,-29.5,-9,-28.5,-9.05,-27.5,-8.95,-26.5,-9,-25.5,-9.2,-24.5,-9.5,-23.5,-9.6,-22.74,-9.5],
 [-34.59,-7.16,-34.1,-7.9,-33.7,-8.4,-33.1,-8.85,-32.5,-9.1,-31.8,-9.18,-31,-9.2,-30.2,-9.15,-29.2,-9.15,-28.2,-9,-27.2,-8.88,-26.2,-9.1,-25.2,-9.35,-24.2,-9.55,-23.2,-9.5],
 [-34.57,-7.31,-33.9,-8.1,-33.4,-8.6,-32.9,-8.95,-32.3,-9.2,-31.5,-9.35,-30.5,-9.32,-29.5,-9.38,-28.5,-9.25,-27.5,-9.12,-26.5,-9.25,-25.5,-9.55,-24.5,-9.72],
 [-34.61,-7.9,-34.2,-8.55,-33.8,-9,-33.2,-9.4,-32.4,-9.62,-31.5,-9.7,-30.5,-9.66,-29.5,-9.7,-28.5,-9.62,-27.5,-9.45,-26.5,-9.6,-25.5,-9.88],
 [-34.7,-8.4,-34.4,-9.1,-33.9,-9.5,-33.2,-9.72,-32.4,-9.9,-31.5,-9.92,-30.5,-9.9,-29.5,-9.92,-28.6,-9.85,-27.6,-9.6,-26.6,-9.8],
 [-34.9,-8.8,-34.5,-9.3,-33.9,-9.68,-33.1,-9.85,-32.3,-10.02,-31.4,-10.05,-30.4,-10.02,-29.4,-10.02,-28.6,-9.98,-27.6,-9.85,-26.6,-10]
];

var maceioBandDays = [[-36,100],[-35,92],[-34,89],[-33,82],[-32.5,70],[-32,62],[-31,56],[-30,54],[-29,51],[-28,47],[-26,37],[-25,33],[-24,28],[-23,23],[-22,18],[-21,12],[-20,5]];
var maceioBand = [
 [-35.79,-9.96,-35.3,-9.72,-34.8,-9.6,-34.3,-9.95,-33.7,-10.1,-33,-10.2,-32.2,-10.25,-31.5,-10.3,-31,-10.42,-30.3,-10.7,-29.7,-10.55,-29,-10.6,-28,-10.3,-27,-10.6,-26,-10.95,-25,-11.1,-24,-11.1,-23,-11.1,-22,-11.2,-21,-11.1,-20,-10.9],
 [-35.73,-9.89,-35.2,-9.62,-34.7,-9.52,-34.2,-9.85,-33.6,-10.02,-32.9,-10.12,-32,-10.15,-31.3,-10.22,-30.7,-10.42,-30,-10.6,-29.3,-10.42,-28.5,-10.2,-27.5,-10.22,-26.6,-10.65,-25.8,-10.9,-25.1,-11.05,-24.5,-10.85,-23.6,-10.75,-22.42,-11.2],
 [-35.65,-9.81,-35.1,-9.6,-34.6,-9.48,-34.1,-9.75,-33.5,-9.98,-32.8,-10.05,-32,-10.08,-31.2,-10.15,-30.5,-10.35,-29.9,-10.5,-29.2,-10.32,-28.4,-10.15,-27.4,-10.25,-26.5,-10.5,-25.6,-10.65,-24.8,-10.55,-23.8,-10.5,-23,-10.45,-22,-10.55],
 [-35.56,-9.71,-35,-9.5,-34.6,-9.42,-34.1,-9.85,-33.5,-10.08,-32.7,-10.16,-31.9,-10.28,-31.1,-10.48,-30.4,-10.78,-29.7,-10.68,-29,-10.72,-28.1,-10.45,-27.1,-10.72,-26.1,-11.05,-25,-11.22,-24,-11.28,-23,-11.3],
 [-35.38,-9.51,-34.9,-9.42,-34.5,-9.6,-34.1,-10,-33.5,-10.2,-32.7,-10.28,-31.9,-10.4,-31.1,-10.58,-30.4,-10.86,-29.7,-10.78,-29,-10.82,-28,-10.55,-27,-10.85,-26,-11.15],
 [-35.26,-9.38,-34.85,-9.35,-34.5,-9.72,-34.1,-10.1,-33.4,-10.3,-32.6,-10.38,-31.8,-10.5,-31,-10.68,-30.3,-10.95,-29.6,-10.88,-28.8,-10.9,-28,-10.68],
 [-35.01,-9.14,-34.9,-9.6,-34.86,-10.2,-34.5,-10,-34,-10.25,-33.4,-10.42,-32.6,-10.5,-31.8,-10.62,-31,-10.78,-30.3,-11.05,-29.5,-10.95],
 [-34.94,-8.76,-34.92,-9.4,-34.85,-10.05,-34.85,-10.7,-34.4,-10.35,-33.8,-10.4,-33.2,-10.55,-32.4,-10.62,-31.6,-10.75,-30.8,-10.9]
];

var aracajuBandDays = [[-37,100],[-35.5,96],[-35,92],[-34,90],[-33,88],[-32,84],[-31,74],[-30,66],[-29,60],[-27,52],[-26,40],[-25,34],[-24,28],[-23,18],[-22,10],[-20,3]];
var aracajuBand = [
 [-36.86,-11.02,-36.3,-10.65,-35.7,-10.4,-35.2,-10.7,-34.5,-10.66,-34.03,-10.77,-33.85,-11.12,-33.2,-11.2,-32.5,-11.55,-32.1,-11.9,-31.65,-11.65,-30.8,-11.72,-30,-12,-29,-11.8,-28,-11.9,-27,-12.3,-26.2,-12.55,-25.4,-12.5,-24.6,-12.3,-23.8,-12.2,-23.26,-12.18],
 [-36.77,-10.9,-36.1,-10.55,-35.5,-10.4,-35,-10.9,-34.5,-10.8,-34,-10.95,-33.3,-11.25,-32.6,-11.4,-32,-11.5,-31.3,-11.55,-30.5,-11.75,-29.5,-11.7,-28.5,-11.72,-27.5,-11.95,-26.6,-12.3,-25.8,-12.45,-25,-12.35,-24.2,-12.15,-23.5,-12.05],
 [-36.27,-10.64,-35.7,-10.3,-35.3,-10.4,-34.85,-10.4,-34.5,-10.15,-34,-10.15,-33.4,-10.4,-32.8,-10.93,-32,-11.03,-31.3,-11.14,-30.5,-11.39,-29.3,-11.39,-28,-11.25,-27,-11.15,-26.2,-11.1,-25.3,-11.15,-24.5,-11.3,-23.5,-11.4,-22.42,-11.2],
 [-36.7,-10.85,-36,-10.4,-35.4,-10.35,-34.9,-10.55,-34.5,-10.3,-34,-10.3,-33.4,-10.55,-32.7,-11.03,-32,-11.12,-31.3,-11.25,-30.5,-11.48,-29.3,-11.48,-28,-11.35,-27,-11.22,-26.2,-11.2,-25.3,-11.25,-24.5,-11.4],
 [-36.6,-10.8,-36,-10.5,-35.5,-10.5,-35,-10.8,-34.4,-10.45,-33.9,-10.45,-33.3,-10.7,-32.6,-11.12,-31.9,-11.2,-31.2,-11.32,-30.4,-11.55,-29.2,-11.55,-28,-11.42,-27,-11.3,-26,-11.28,-25,-11.4,-24,-11.55],
 [-36.5,-10.75,-35.9,-10.6,-35.4,-10.65,-35,-11,-34.4,-10.7,-33.9,-10.85,-33.2,-11.1,-32.5,-11.3,-31.8,-11.4,-31,-11.6,-30.2,-11.85,-29.2,-11.65,-28.2,-11.72,-27.2,-12.1,-26.4,-12.42,-25.6,-12.62,-24.8,-12.4,-24,-12.15],
 [-36.4,-10.72,-35.8,-10.7,-35.2,-11,-34.6,-10.85,-34,-11.05,-33.3,-11.32,-32.6,-11.62,-32,-11.8,-31.4,-11.62,-30.6,-11.78,-29.8,-11.92,-28.8,-11.82,-27.8,-11.98,-26.9,-12.4,-26,-12.62,-25.2,-12.72]
];

var blueRowsDays = [[-30,56],[-28.5,50],[-27.5,44],[-26,36],[-25,32],[-24,29],[-23,26],[-22,22],[-21,18],[-20,12]];
var blueRows = [
 [-28,-8.55,-27,-8.6,-26,-8.95,-25,-9,-24,-8.85,-23,-8.7,-22,-8.7,-21.25,-8.85,-20,-8.96],
 [-27.5,-8.75,-26.5,-8.85,-25.5,-8.75,-24.5,-8.7,-23.5,-8.75,-22.5,-8.8,-21.5,-8.75,-20.47,-8.85],
 [-27,-8.9,-26,-9.05,-25,-8.85,-24,-8.9,-23,-8.9,-22,-8.95,-21,-8.9,-20,-8.88],
 [-26.5,-9,-25.5,-9.05,-24.5,-8.95,-23.5,-9.05,-22.6,-8.96,-21.6,-8.95,-20.79,-8.87],
 [-26,-9.1,-25,-9.15,-24,-9.15,-23,-9.05,-22.2,-9.08,-21.2,-9.15,-20.2,-9.08],
 [-26,-9.3,-25,-9.35,-24,-9.4,-23,-9.2,-22,-9.2,-21,-9.32,-20,-9.38],
 [-25.5,-9.4,-24.5,-9.55,-23.5,-9.5,-22.8,-9.6,-22,-9.45,-21,-9.42,-20,-9.45],
 [-25,-9.6,-24,-9.62,-23.2,-9.7,-22.5,-9.52,-21.5,-9.35,-20.6,-9.38],
 [-25.2,-9.9,-24.2,-10,-23.2,-10.1,-22.2,-9.95,-21.2,-10,-20,-9.92],
 [-25.5,-10.05,-24.5,-10.15,-23.5,-10.25,-22.5,-10.15,-21.5,-10.2,-20.6,-9.98],
 [-26,-10.15,-25,-10.25,-24,-10.35,-23,-10.4,-22,-10.3,-21,-10.35,-20,-10.3],
 [-26.5,-10.3,-25.5,-10.4,-24.5,-10.5,-23.5,-10.6,-22.5,-10.5,-21.5,-10.5,-20.5,-10.52,-20,-10.55],
 [-30,-10.2,-29,-10.2,-28,-10.2,-27,-10.66,-26.1,-10.9,-25.5,-11.1,-25,-10.85,-24,-10.95,-23,-10.88,-22,-10.85,-21,-10.75,-20.36,-10.69],
 [-29,-10.3,-28,-10.32,-27,-10.5,-26,-10.75,-25,-10.72,-24,-10.72,-23,-10.68,-22,-10.68,-21,-10.62,-20,-10.72],
 [-27,-11.05,-26,-10.95,-25.1,-11.1,-24,-11.1,-23,-11.02,-22,-11.1,-21.31,-11.08,-20.66,-11.2,-20.08,-10.93],
 [-26.3,-11.25,-25.3,-11.3,-24.3,-11.22,-23.3,-11.2,-22.3,-11.28,-21.3,-11.22,-20.4,-11.01],
 [-26,-11.4,-25,-11.5,-24,-11.48,-23,-11.38,-22,-11.4,-21,-11.4,-20,-11.3],
 [-25.8,-11.6,-24.8,-11.65,-23.8,-11.7,-23,-11.6,-22,-11.62,-21,-11.5,-20,-11.5],
 [-25.5,-11.8,-24.5,-11.88,-23.5,-11.85,-22.7,-11.78,-21.9,-11.55,-21.2,-11.58,-20.27,-11.8,-20,-11.7],
 [-25.8,-12,-24.8,-12.1,-24,-12,-23.2,-12.02,-22.6,-11.95,-22.16,-12.12,-21.7,-11.8,-21.1,-11.72,-20.6,-11.7],
 [-26.8,-11.18,-26.3,-11.8,-25.9,-12.55,-25.5,-12.73,-25,-12.85,-24.6,-12.6,-24.1,-12.2,-23.5,-12.08,-23,-12.24],
 [-26.9,-11.1,-26.4,-11.7,-26,-12.4,-25.6,-12.68,-25.1,-12.78,-24.6,-12.5,-24,-12.25,-23.3,-12.18,-22.81,-12.08],
 [-27.4,-10.45,-26.7,-10.85,-26,-11.05,-25.3,-10.85,-24.6,-10.9,-23.8,-11,-23,-11.2,-22.2,-11.45,-21.51,-11.56],
 [-26.5,-10.7,-25.8,-10.78,-25,-10.95,-24.2,-11.05,-23.3,-11.18,-22.2,-11.32,-21.2,-11.4,-20.2,-11.4],
 [-28,-8.45,-27,-8.5,-26,-8.6,-25,-8.72,-24,-8.72,-23,-8.8,-22,-8.85],
 [-27,-8.65,-26,-8.78,-25,-8.95,-24,-9.05,-23,-9.12,-22,-9.02,-21,-9.05,-20,-9],
 [-26.5,-9.2,-25.5,-9.2,-24.5,-9.2,-23.5,-9.25,-22.5,-9.3,-21.5,-9.25,-20.5,-9.25,-20,-9.2],
 [-26,-9.5,-25,-9.6,-24,-9.5,-23,-9.42,-22,-9.35,-21,-9.22,-20,-9.3],
 [-25.5,-9.7,-24.5,-9.75,-23.5,-9.82,-22.5,-9.72,-21.5,-9.65,-20.5,-9.6,-20,-9.6],
 [-26,-10,-25,-10.08,-24,-10.2,-23,-10.28,-22,-10.08,-21,-10.1,-20,-10.05],
 [-26.5,-10.45,-25.5,-10.55,-24.5,-10.65,-23.5,-10.45,-22.5,-10.38,-21.5,-10.42,-20.5,-10.38],
 [-27,-10.7,-26,-10.85,-25,-10.8,-24,-10.82,-23,-10.92,-22,-10.98,-21,-10.9,-20,-10.85],
 [-25.5,-11.18,-24.5,-11.12,-23.5,-11.1,-22.5,-11.12,-21.5,-11.02,-20.6,-10.98,-20,-11.1],
 [-26,-11.35,-25,-11.35,-24,-11.32,-23,-11.28,-22,-11.22,-21,-11.25,-20,-11.2],
 [-25,-11.7,-24,-11.6,-23,-11.52,-22,-11.5,-21,-11.32,-20.2,-11.35],
 [-25.2,-11.95,-24.4,-11.95,-23.6,-11.95,-22.8,-11.92,-22.2,-11.78,-21.4,-11.48,-20.8,-11.62,-20,-11.6],
 [-25.6,-12.2,-24.8,-12.25,-24,-12.1,-23.4,-12.15,-22.68,-11.92],
 [-25.8,-12.4,-25,-12.45,-24.2,-12.35,-23.5,-12.28,-23,-12.3],
 [-26.6,-12.3,-25.8,-12.62,-25,-12.55,-24.4,-12.32,-23.8,-12.28,-23.13,-12.12],
 [-27.2,-10.3,-26.3,-10.58,-25.4,-10.7,-24.6,-10.58,-23.7,-10.72,-22.8,-10.8,-22,-11],
 [-27.8,-10.55,-26.8,-10.78,-25.8,-11.02,-25,-11,-24.2,-11.02,-23.4,-11.25,-22.5,-11.4],
 [-28.5,-10.4,-27.6,-10.4,-26.6,-10.72,-25.8,-11.1,-24.9,-11.42,-24,-11.4,-23.2,-11.42],
 [-28,-10.1,-27,-10.1,-26,-10.3,-25,-10.35,-24,-10.42,-23,-10.55,-22,-10.4,-21,-10.2,-20,-10.15],
 [-27.5,-10.05,-26.5,-10.2,-25.5,-10.22,-24.5,-10.3,-23.5,-10.35,-22.5,-10.25,-21.5,-10.3,-20.5,-10.25],
 [-26,-8.72,-25,-8.82,-24,-8.8,-23,-8.98,-22.22,-9.08],
 [-25.6,-8.55,-24.6,-8.62,-23.6,-8.68,-22.8,-8.9,-22.31,-8.88],
 [-26.2,-9.4,-25.2,-9.28,-24.2,-9.3,-23.2,-9.3,-22.55,-9.32],
 [-25.5,-9.5,-24.5,-9.4,-23.5,-9.38,-22.68,-9.26]
];
var darkRowsDays = [[-25,22],[-24,16],[-23,11],[-22,7],[-20,2]];
var darkRows = [
 [-23.4,-10.75,-22.6,-11.05,-21.9,-11.2,-21.3,-11.05,-20.7,-11.15,-20.3,-10.95,-20,-10.9],
 [-23.2,-12.15,-22.6,-12.05,-22.1,-11.95,-21.7,-11.6,-21.2,-11.55,-20.7,-11.65,-20.2,-11.75,-20,-11.7],
 [-24,-9.3,-23.4,-9.45,-22.9,-9.6,-22.4,-9.2,-21.8,-9.05,-21.2,-8.95,-20.6,-8.95,-20,-8.9],
 [-22.8,-9.55,-22.2,-9.4,-21.5,-9.38,-20.9,-9.38,-20.3,-9.4,-20,-9.4],
 [-22.5,-10.2,-21.8,-10.25,-21.2,-10.18,-20.6,-10.28,-20,-10.1],
 [-25,-7.7,-24.5,-7.85,-24,-8.02,-23.5,-8.02,-23,-8],
 [-25.1,-7.6,-24.6,-7.75,-24.1,-7.95,-23.6,-7.98,-23.2,-7.95]
];
var greenRowsDays = [[-30,68],[-28.5,66],[-27.5,62],[-26,52],[-25,47],[-24,44],[-23,38],[-22.5,32],[-22,24],[-20,8]];
var greenRows = [
 [-28.5,-9.02,-27.5,-8.95,-26.5,-9.05,-25.5,-9.28,-24.5,-9.55,-23.5,-9.72,-22.7,-9.95,-22,-9.68,-21.4,-9.4],
 [-28,-9.12,-27,-9.1,-26,-9.3,-25,-9.5,-24,-9.72,-23,-9.98,-22.3,-9.85],
 [-27.6,-9.3,-26.6,-9.28,-25.6,-9.48,-24.6,-9.72,-23.6,-9.9,-22.8,-10.05],
 [-25.4,-10.4,-24.8,-10.8,-23.9,-11,-22.9,-10.75,-22.2,-10.72],
 [-25.3,-10.35,-24.7,-10.72,-23.8,-10.9,-22.8,-10.66,-22.3,-10.6],
 [-25.5,-10.3,-24.9,-10.7,-24,-10.92,-23,-10.82,-22.4,-10.85],
 [-30,-11.42,-29,-11.42,-28,-11.3,-27,-11.2,-26,-11.2,-25.2,-11.1],
 [-30,-11.35,-29,-11.36,-28,-11.24,-27,-11.14,-26,-11.12,-25.4,-11],
 [-29.5,-11.48,-28.5,-11.4,-27.5,-11.3,-26.5,-11.24,-25.6,-11.2]
];

var width = 747, height = 548;
var x = d3.scaleLinear().domain([-43.2,-40,-35,-30,-25,-20]).range([74,165,306,446,587,716]);
var y = d3.scaleLinear().domain([-2,-13.1]).range([137,448]);
var timeX = d3.scaleLinear().domain([104.5,0]).range([267.6,721.4]).clamp(true);
var dayColor = d3.scaleLinear().domain(timelineDays).range(timelineColors);

var svg = d3.select("#chart").append("svg").attr("width",width).attr("height",height).style("display","block");

function pairs(flat){
  var out = [];
  for(var i=0;i<flat.length;i+=2){ out.push([flat[i],flat[i+1]]); }
  return out;
}
// squeeze roboto to the narrower width of the original face
function fit(sel,w){
  return sel.attr("textLength",w).attr("lengthAdjust","spacingAndGlyphs");
}

/* legend */
svg.selectAll(".dayBand").data(d3.range(0,104.5,1.5)).enter().append("rect")
  .attr("x",function(d){return timeX(d+1.5);})
  .attr("width",function(d){return timeX(d)-timeX(d+1.5)+0.5;})
  .attr("y",43.5).attr("height",16)
  .attr("fill",function(d){return dayColor(Math.min(d+0.75,104.5));});
svg.selectAll(".dayTick").data(timelineTicks.slice(0,10)).enter().append("line")
  .attr("x1",timeX).attr("x2",timeX).attr("y1",43.5).attr("y2",48)
  .attr("stroke","#555").attr("stroke-opacity",0.7).attr("stroke-width",0.7);
var dayLabels = svg.append("g").attr("font-size",13).attr("fill","#58595b").attr("text-anchor","middle");
timelineTicks.forEach(function(d,i){
  var px = d===0 ? 710 : timeX(d)+0.5;
  var hasMonth = timelineMonths[i]!=="";
  if(hasMonth){
    dayLabels.append("text").attr("x",px).attr("y",d===0?22:25).text(timelineNumbers[i]);
    dayLabels.append("text").attr("x",px).attr("y",d===0?37:39).text(timelineMonths[i]);
  } else {
    dayLabels.append("text").attr("x",px).attr("y",39).text(timelineNumbers[i]);
  }
});
var legendTitle = svg.append("g").attr("font-size",13.5).attr("font-weight",700).attr("fill","#4d4d4f");
fit(legendTitle.append("text").attr("x",42).attr("y",35.5).text("POSIÇÃO INICIAL"),98);
fit(legendTitle.append("text").attr("x",42).attr("y",57.5).text("POSIÇÃO FINAL"),90);
fit(legendTitle.append("text").attr("x",200).attr("y",44).text("LINHA DO"),55);
fit(legendTitle.append("text").attr("x",214).attr("y",59).text("TEMPO"),41);
svg.append("circle").attr("cx",32.5).attr("cy",31).attr("r",5.5).attr("fill","#ed1c24");
svg.append("circle").attr("cx",32.5).attr("cy",53).attr("r",5.5).attr("fill","#ef956c");

/* grid */
var grid = svg.append("g").attr("stroke","#aaa").attr("stroke-width",1).attr("stroke-dasharray","1 1");
latTicks.forEach(function(d){
  grid.append("line").attr("x1",74).attr("x2",x(-20)).attr("y1",y(d)).attr("y2",y(d));
});
lonTicks.forEach(function(d){
  grid.append("line").attr("x1",x(d)).attr("x2",x(d)).attr("y1",y(-2)).attr("y2",y(-13.1));
});

/* map */
var mapLine = d3.line().x(function(d){return x(d[0]);}).y(function(d){return y(d[1]);});
svg.append("path").attr("d",mapLine(pairs(coastLine))).attr("fill","none").attr("stroke","#a7a9ac").attr("stroke-width",0.9);
svg.selectAll(".border").data(stateBorders).enter().append("path")
  .attr("d",function(d){return mapLine.curve(d3.curveCatmullRom)(pairs(d));})
  .attr("fill","none").attr("stroke","#bcbec0").attr("stroke-width",0.8);
mapLine.curve(d3.curveLinear);

svg.selectAll(".state").data(stateNames).enter().append("text")
  .attr("x",function(d,i){return x(stateLons[i]);})
  .attr("y",function(d,i){return y(stateLats[i])+5.5;})
  .attr("text-anchor","middle").attr("font-size",16).attr("font-weight",700).attr("fill","#bcbec0")
  .text(function(d){return d;});

/* tracks */
var trackLine = d3.line().curve(d3.curveCatmullRom.alpha(0.5));
function drawTracks(tracks, anchors, lineWidth){
  var dayAt = d3.scaleLinear().domain(anchors.map(function(a){return a[0];})).range(anchors.map(function(a){return a[1];})).clamp(true);
  var bins = new Map();
  tracks.forEach(function(track){
    var pts = pairs(track).map(function(p){return [x(p[0]),y(p[1])];});
    var d = trackLine(pts);
    var prev = pts[0];
    d.slice(d.indexOf("C")+1).split("C").forEach(function(seg){
      var c = seg.split(",").map(Number);
      var last = prev;
      for(var k=1;k<=4;k++){
        var t = k/4, u = 1-t;
        var px = u*u*u*prev[0]+3*u*u*t*c[0]+3*u*t*t*c[2]+t*t*t*c[4];
        var py = u*u*u*prev[1]+3*u*u*t*c[1]+3*u*t*t*c[3]+t*t*t*c[5];
        var day = Math.round(dayAt(x.invert((px+last[0])/2)));
        if(!bins.has(day)){ bins.set(day,[]); }
        bins.get(day).push("M"+last[0].toFixed(1)+","+last[1].toFixed(1)+"L"+px.toFixed(1)+","+py.toFixed(1));
        last = [px,py];
      }
      prev = [c[4],c[5]];
    });
  });
  var g = svg.append("g").attr("fill","none").attr("stroke-width",lineWidth).attr("stroke-linecap","round").attr("stroke-opacity",0.85);
  bins.forEach(function(segs,day){
    g.append("path").attr("d",segs.join("")).attr("stroke",dayColor(day));
  });
}
drawTracks(blueRows,blueRowsDays,1.7);
drawTracks(darkRows,darkRowsDays,1.8);
drawTracks(tealThin,tealArcsDays,0.8);
drawTracks(topStrand,topStrandDays,1.2);
drawTracks(natalThin,tealArcsDays,0.7);
drawTracks(tealArcs,tealArcsDays,1.1);
drawTracks(tealBand,tealArcsDays,1.9);
drawTracks(greenRows,greenRowsDays,2.4);
drawTracks(aracajuBand,aracajuBandDays,1.7);
drawTracks(maceioBand,maceioBandDays,1.9);
drawTracks(paleStubs,paleStubsDays,0.8);
drawTracks(natalBand,natalBandDays,1.5);
drawTracks(orangeFan,orangeFanDays,1.7);
drawTracks(northBand,northBandDays,1.4);
drawTracks(recifeYellow,recifeYellowDays,2.2);

/* drift start / end */
svg.selectAll(".start").data(pairs(startPositions)).enter().append("circle")
  .attr("cx",function(d){return x(d[0]);}).attr("cy",function(d){return y(d[1]);})
  .attr("r",1.8).attr("fill","#ed1c24");
svg.selectAll(".end").data(pairs(endPositions)).enter().append("circle")
  .attr("cx",function(d){return x(d[0]);}).attr("cy",function(d){return y(d[1]);})
  .attr("r",2.3).attr("fill","#f1734a");

/* cities */
var star = d3.symbol().type(d3.symbolStar).size(22);
var cities = svg.selectAll(".city").data(cityNames).enter().append("g")
  .attr("transform",function(d,i){return "translate("+x(cityLons[i])+","+y(cityLats[i])+")";});
cities.append("circle").attr("r",4.4).attr("fill","#231f20");
cities.append("path").attr("d",star).attr("fill","#fff");

var cityText = svg.append("g").attr("font-size",9.8).attr("fill","#111");
function cityLabel(name,dx,dy,anchor,i){
  cityText.append("text").attr("x",x(cityLons[i])+dx).attr("y",y(cityLats[i])+dy).attr("text-anchor",anchor).text(name);
}
cityLabel("Fortaleza",-9,3.5,"end",0);
cityLabel("Teresina",6,3.5,"start",1);
cityLabel("Natal",-6,4,"end",2);
cityLabel("João",-21,-12,"middle",3);
cityLabel("Pessoa",-21,-1,"middle",3);
cityLabel("Recife",-18,10,"middle",4);
cityLabel("Maceió",-9,-8,"middle",5);
cityLabel("Aracaju",18,15,"middle",6);
cityLabel("Salvador",5,9,"start",7);

/* current arrow */
var arrowPts = [[-36.65,-2.5],[-36,-2.5],[-36,-2.3],[-35.75,-2.6],[-36,-2.88],[-36,-2.72],[-36.65,-2.72]];
svg.append("path").attr("d",mapLine(arrowPts)+"Z").attr("fill","#c9cdd6");

/* axis text */
var yTicks = svg.append("g").attr("font-size",19).attr("fill","#58595b").attr("text-anchor","end");
latTicks.forEach(function(d){
  yTicks.append("text").attr("x",71).attr("y",y(d)+6.5).text(d);
});
var xTicks = svg.append("g").attr("font-size",19).attr("fill","#58595b").attr("text-anchor","middle");
lonTicks.forEach(function(d){
  xTicks.append("text").attr("x",x(d)-(d===-20?6:8)).attr("y",468).text(d);
});
fit(svg.append("text").attr("x",320).attr("y",489)
  .attr("font-size",20).attr("font-weight",700).attr("fill","#a7a9ac").text("LONGITUDE"),101);
fit(svg.append("text").attr("transform","translate(48,303) rotate(-90)")
  .attr("font-size",20).attr("font-weight",700).attr("fill","#a7a9ac").text("LATITUDE"),85);

var ocean = svg.append("g").attr("text-anchor","middle").attr("font-size",15).attr("font-weight",700).attr("fill","#66aed3").attr("letter-spacing",0.5);
ocean.append("text").attr("x",523).attr("y",168).text("OCEANO");
ocean.append("text").attr("x",523).attr("y",190).text("ATLÂNTICO");

var source = svg.append("text").attr("x",23).attr("y",536).attr("font-size",12.5).attr("fill","#808285");
source.append("tspan").attr("font-weight",700).attr("fill","#6d6e71").text("Fonte: ");
source.append("tspan").text("Laboratório de Métodos Computacionais em Engenharia (Lamce)");
fit(source,373);
fit(svg.append("text").attr("x",686).attr("y",536).attr("font-size",13).attr("font-weight",700).attr("fill","#d1d3d4").text("ESTADÃO"),46);
svg.append("path").attr("d",d3.symbol().type(d3.symbolTriangle).size(26)).attr("transform","translate(680,532)").attr("fill","#d1d3d4");
</script>
</body>
</html>
